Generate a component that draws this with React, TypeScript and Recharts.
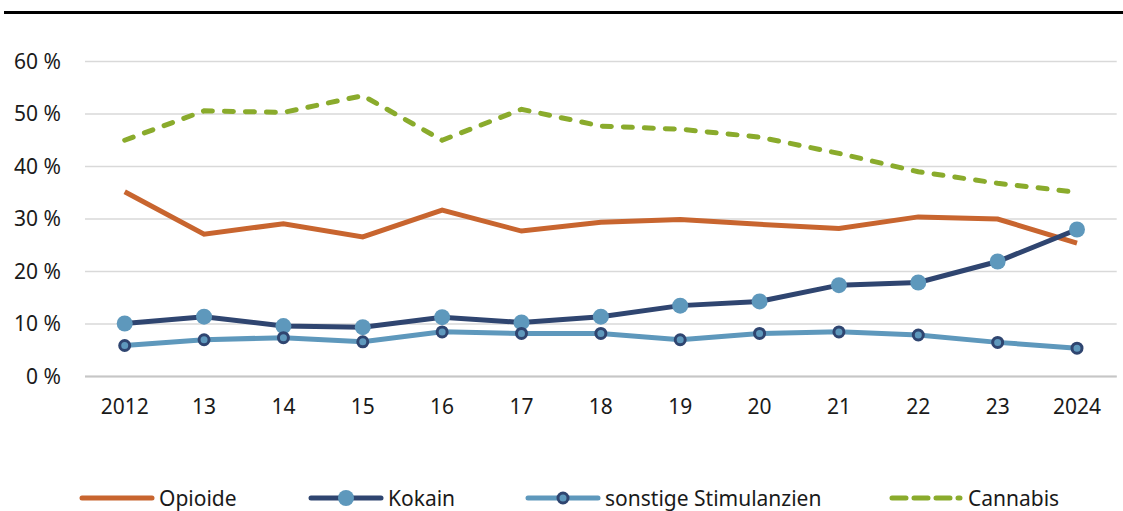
import React from 'react';
import { LineChart, Line, XAxis, YAxis, CartesianGrid } from 'recharts';

const years = ['2012', '13', '14', '15', '16', '17', '18', '19', '20', '21', '22', '23', '2024'];
const opioide = [35.2, 27.1, 29.1, 26.6, 31.7, 27.7, 29.4, 29.9, 29.0, 28.2, 30.4, 30.0, 25.4];
const kokain = [10.1, 11.4, 9.6, 9.4, 11.3, 10.3, 11.4, 13.5, 14.3, 17.4, 17.9, 21.9, 28.0];
const stimulanzien = [5.9, 7.0, 7.4, 6.6, 8.5, 8.2, 8.2, 7.0, 8.2, 8.5, 7.9, 6.5, 5.4];
const cannabis = [45.0, 50.6, 50.3, 53.5, 45.0, 50.9, 47.7, 47.1, 45.6, 42.5, 39.0, 36.8, 35.1];
const yTicks = [0, 10, 20, 30, 40, 50, 60];

const ORANGE = '#c8652f';
const DARK = '#2f4570';
const LIGHT = '#5e98bc';
const GREEN = '#8aab2c';
const FONT = '"Segoe UI", "Noto Sans", sans-serif';

const data = years.map((year, i) => ({
  year,
  opioide: opioide[i],
  kokain: kokain[i],
  stimulanzien: stimulanzien[i],
  cannabis: cannabis[i],
}));

// legend drawn by hand, Excel-style swatches
const LegendItem = ({ left, kind, color, label }: any) => (
  <div style={{ position: 'absolute', left, top: 485, height: 26, display: 'flex', alignItems: 'center' }}>
    <svg width={76} height={26}>
      {kind === 'dash' ? (
        <line x1={4} y1={13} x2={72} y2={13} stroke={color} strokeWidth={5} strokeLinecap="round" strokeDasharray="14 8" />
      ) : (
        <line x1={3} y1={13} x2={73} y2={13} stroke={color} strokeWidth={5} strokeLinecap="round" />
      )}
      {kind === 'kokain' && <circle cx={38} cy={13} r={8} fill={LIGHT} />}
      {kind === 'stim' && <circle cx={38} cy={13} r={5} fill={LIGHT} stroke={DARK} strokeWidth={3} />}
    </svg>
    <span style={{ fontFamily: FONT, fontSize: 21, color: '#1a1a1a', marginLeft: 4, lineHeight: '26px' }}>{label}</span>
  </div>
);

const App = () => {
  return (
    <div style={{ position: 'absolute', left: 0, top: 0, width: 1123, height: 511, background: '#fff', overflow: 'hidden' }}>
      <div style={{ position: 'absolute', left: 4, top: 11, width: 1119, height: 3, background: '#000' }} />
      <div style={{ position: 'absolute', left: 0, top: 0 }}>
        <LineChart width={1123} height={430} data={data} margin={{ top: 61.5, right: 6.3, left: 0, bottom: 13.5 }}>
          <CartesianGrid vertical={false} stroke="#d9d9d9" strokeWidth={1.5} />
          <XAxis
            dataKey="year"
            padding={{ left: 39.7, right: 39.7 }}
            height={40}
            tickLine={false}
            tickSize={0}
            tickMargin={23}
            axisLine={{ stroke: '#c6c6c6', strokeWidth: 2 }}
            tick={{ fill: '#1a1a1a', fontSize: 21, fontFamily: FONT }}
            interval={0}
          />
          <YAxis
            width={85}
            domain={[0, 60]}
            ticks={yTicks}
            axisLine={false}
            tickLine={false}
            tickSize={0}
            tickMargin={24}
            tickFormatter={(v: number) => `${v} %`}
            tick={{ fill: '#1a1a1a', fontSize: 21, fontFamily: FONT }}
          />
          <Line dataKey="opioide" stroke={ORANGE} strokeWidth={5} dot={false} isAnimationActive={false} />
          <Line
            dataKey="kokain"
            stroke={DARK}
            strokeWidth={5}
            dot={{ r: 8, fill: LIGHT, stroke: LIGHT, strokeWidth: 0 }}
            isAnimationActive={false}
          />
          <Line
            dataKey="stimulanzien"
            stroke={LIGHT}
            strokeWidth={5}
            dot={{ r: 5, fill: LIGHT, stroke: DARK, strokeWidth: 3 }}
            isAnimationActive={false}
          />
          <Line
            dataKey="cannabis"
            stroke={GREEN}
            strokeWidth={5}
            strokeDasharray="9 12"
            strokeLinecap="round"
            dot={false}
            isAnimationActive={false}
          />
        </LineChart>
      </div>
      <LegendItem left={79} kind="solid" color={ORANGE} label="Opioide" />
      <LegendItem left={308} kind="kokain" color={DARK} label="Kokain" />
      <LegendItem left={525} kind="stim" color={LIGHT} label="sonstige Stimulanzien" />
      <LegendItem left={888} kind="dash" color={GREEN} label="Cannabis" />
    </div>
  );
};

export default App;
